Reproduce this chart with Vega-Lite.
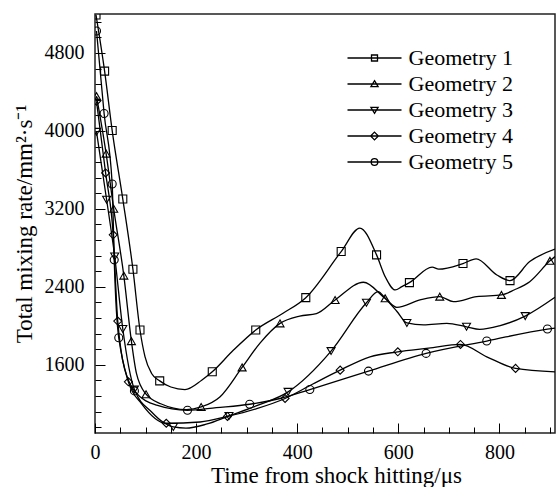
{
  "$schema": "https://vega.github.io/schema/vega-lite/v6.json",
  "width": 460,
  "height": 419,
  "autosize": {"type": "none"},
  "padding": {"left": 95, "top": 14, "right": 5, "bottom": 54},
  "config": {
    "font": "Liberation Serif",
    "view": {"stroke": "#222", "strokeWidth": 1.5},
    "axis": {"grid": false, "domain": false, "tickColor": "black", "tickWidth": 1, "labelColor": "black", "titleColor": "black", "labelFontSize": 20, "titleFontSize": 23, "titleFontWeight": "normal", "labelFont": "Liberation Serif", "titleFont": "Liberation Serif", "labelFlush": false},
    "legend": {"labelFont": "Liberation Serif"}
  },
  "data": {"values": [
    {"series": "Geometry 1", "time": 2, "rate": 5190, "marker": true},
    {"series": "Geometry 1", "time": 19, "rate": 4614, "marker": true},
    {"series": "Geometry 1", "time": 34, "rate": 4004, "marker": true},
    {"series": "Geometry 1", "time": 55, "rate": 3301, "marker": true},
    {"series": "Geometry 1", "time": 75, "rate": 2581, "marker": true},
    {"series": "Geometry 1", "time": 89, "rate": 1957, "marker": true},
    {"series": "Geometry 1", "time": 99, "rate": 1682, "marker": false},
    {"series": "Geometry 1", "time": 112, "rate": 1511, "marker": false},
    {"series": "Geometry 1", "time": 128, "rate": 1435, "marker": true},
    {"series": "Geometry 1", "time": 150, "rate": 1372, "marker": false},
    {"series": "Geometry 1", "time": 178, "rate": 1346, "marker": false},
    {"series": "Geometry 1", "time": 211, "rate": 1442, "marker": false},
    {"series": "Geometry 1", "time": 232, "rate": 1528, "marker": true},
    {"series": "Geometry 1", "time": 274, "rate": 1751, "marker": false},
    {"series": "Geometry 1", "time": 318, "rate": 1957, "marker": true},
    {"series": "Geometry 1", "time": 372, "rate": 2129, "marker": false},
    {"series": "Geometry 1", "time": 417, "rate": 2289, "marker": true},
    {"series": "Geometry 1", "time": 487, "rate": 2762, "marker": true},
    {"series": "Geometry 1", "time": 524, "rate": 3003, "marker": false},
    {"series": "Geometry 1", "time": 557, "rate": 2728, "marker": true},
    {"series": "Geometry 1", "time": 574, "rate": 2505, "marker": false},
    {"series": "Geometry 1", "time": 594, "rate": 2368, "marker": false},
    {"series": "Geometry 1", "time": 607, "rate": 2402, "marker": false},
    {"series": "Geometry 1", "time": 622, "rate": 2443, "marker": true},
    {"series": "Geometry 1", "time": 667, "rate": 2602, "marker": false},
    {"series": "Geometry 1", "time": 680, "rate": 2581, "marker": false},
    {"series": "Geometry 1", "time": 728, "rate": 2639, "marker": true},
    {"series": "Geometry 1", "time": 754, "rate": 2687, "marker": false},
    {"series": "Geometry 1", "time": 795, "rate": 2522, "marker": false},
    {"series": "Geometry 1", "time": 821, "rate": 2464, "marker": true},
    {"series": "Geometry 1", "time": 860, "rate": 2659, "marker": false},
    {"series": "Geometry 1", "time": 910, "rate": 2787, "marker": false},

    {"series": "Geometry 2", "time": 3, "rate": 4357, "marker": true},
    {"series": "Geometry 2", "time": 22, "rate": 3767, "marker": true},
    {"series": "Geometry 2", "time": 37, "rate": 3201, "marker": true},
    {"series": "Geometry 2", "time": 57, "rate": 2515, "marker": true},
    {"series": "Geometry 2", "time": 72, "rate": 1843, "marker": true},
    {"series": "Geometry 2", "time": 82, "rate": 1511, "marker": false},
    {"series": "Geometry 2", "time": 101, "rate": 1298, "marker": true},
    {"series": "Geometry 2", "time": 130, "rate": 1200, "marker": false},
    {"series": "Geometry 2", "time": 181, "rate": 1140, "marker": false},
    {"series": "Geometry 2", "time": 210, "rate": 1167, "marker": true},
    {"series": "Geometry 2", "time": 247, "rate": 1270, "marker": false},
    {"series": "Geometry 2", "time": 291, "rate": 1573, "marker": true},
    {"series": "Geometry 2", "time": 326, "rate": 1820, "marker": false},
    {"series": "Geometry 2", "time": 366, "rate": 2025, "marker": true},
    {"series": "Geometry 2", "time": 405, "rate": 2100, "marker": false},
    {"series": "Geometry 2", "time": 438, "rate": 2125, "marker": false},
    {"series": "Geometry 2", "time": 475, "rate": 2265, "marker": true},
    {"series": "Geometry 2", "time": 531, "rate": 2447, "marker": false},
    {"series": "Geometry 2", "time": 574, "rate": 2282, "marker": true},
    {"series": "Geometry 2", "time": 597, "rate": 2190, "marker": false},
    {"series": "Geometry 2", "time": 643, "rate": 2265, "marker": false},
    {"series": "Geometry 2", "time": 682, "rate": 2299, "marker": true},
    {"series": "Geometry 2", "time": 709, "rate": 2248, "marker": false},
    {"series": "Geometry 2", "time": 755, "rate": 2299, "marker": false},
    {"series": "Geometry 2", "time": 804, "rate": 2317, "marker": true},
    {"series": "Geometry 2", "time": 830, "rate": 2370, "marker": false},
    {"series": "Geometry 2", "time": 860, "rate": 2453, "marker": false},
    {"series": "Geometry 2", "time": 900, "rate": 2667, "marker": true},
    {"series": "Geometry 2", "time": 910, "rate": 2711, "marker": false},

    {"series": "Geometry 3", "time": 3, "rate": 3991, "marker": true},
    {"series": "Geometry 3", "time": 23, "rate": 3294, "marker": true},
    {"series": "Geometry 3", "time": 39, "rate": 2711, "marker": true},
    {"series": "Geometry 3", "time": 55, "rate": 1967, "marker": true},
    {"series": "Geometry 3", "time": 78, "rate": 1346, "marker": true},
    {"series": "Geometry 3", "time": 112, "rate": 1116, "marker": false},
    {"series": "Geometry 3", "time": 135, "rate": 1010, "marker": false},
    {"series": "Geometry 3", "time": 155, "rate": 962, "marker": true},
    {"series": "Geometry 3", "time": 180, "rate": 950, "marker": false},
    {"series": "Geometry 3", "time": 220, "rate": 990, "marker": false},
    {"series": "Geometry 3", "time": 265, "rate": 1075, "marker": true},
    {"series": "Geometry 3", "time": 320, "rate": 1180, "marker": false},
    {"series": "Geometry 3", "time": 382, "rate": 1322, "marker": true},
    {"series": "Geometry 3", "time": 467, "rate": 1741, "marker": true},
    {"series": "Geometry 3", "time": 537, "rate": 2237, "marker": true},
    {"series": "Geometry 3", "time": 560, "rate": 2350, "marker": false},
    {"series": "Geometry 3", "time": 574, "rate": 2283, "marker": false},
    {"series": "Geometry 3", "time": 597, "rate": 2150, "marker": false},
    {"series": "Geometry 3", "time": 617, "rate": 2029, "marker": true},
    {"series": "Geometry 3", "time": 650, "rate": 2010, "marker": false},
    {"series": "Geometry 3", "time": 696, "rate": 2026, "marker": false},
    {"series": "Geometry 3", "time": 735, "rate": 1990, "marker": true},
    {"series": "Geometry 3", "time": 761, "rate": 1964, "marker": false},
    {"series": "Geometry 3", "time": 800, "rate": 2000, "marker": false},
    {"series": "Geometry 3", "time": 851, "rate": 2100, "marker": true},
    {"series": "Geometry 3", "time": 910, "rate": 2293, "marker": false},

    {"series": "Geometry 4", "time": 3, "rate": 4305, "marker": true},
    {"series": "Geometry 4", "time": 21, "rate": 3569, "marker": true},
    {"series": "Geometry 4", "time": 36, "rate": 2934, "marker": true},
    {"series": "Geometry 4", "time": 45, "rate": 2049, "marker": true},
    {"series": "Geometry 4", "time": 66, "rate": 1425, "marker": true},
    {"series": "Geometry 4", "time": 92, "rate": 1202, "marker": false},
    {"series": "Geometry 4", "time": 141, "rate": 1000, "marker": true},
    {"series": "Geometry 4", "time": 208, "rate": 1013, "marker": false},
    {"series": "Geometry 4", "time": 262, "rate": 1070, "marker": true},
    {"series": "Geometry 4", "time": 320, "rate": 1150, "marker": false},
    {"series": "Geometry 4", "time": 376, "rate": 1254, "marker": true},
    {"series": "Geometry 4", "time": 430, "rate": 1400, "marker": false},
    {"series": "Geometry 4", "time": 485, "rate": 1545, "marker": true},
    {"series": "Geometry 4", "time": 544, "rate": 1682, "marker": false},
    {"series": "Geometry 4", "time": 599, "rate": 1733, "marker": true},
    {"series": "Geometry 4", "time": 660, "rate": 1770, "marker": false},
    {"series": "Geometry 4", "time": 723, "rate": 1809, "marker": true},
    {"series": "Geometry 4", "time": 775, "rate": 1682, "marker": false},
    {"series": "Geometry 4", "time": 832, "rate": 1563, "marker": true},
    {"series": "Geometry 4", "time": 910, "rate": 1528, "marker": false},

    {"series": "Geometry 5", "time": 3, "rate": 5026, "marker": true},
    {"series": "Geometry 5", "time": 18, "rate": 4179, "marker": true},
    {"series": "Geometry 5", "time": 34, "rate": 3456, "marker": true},
    {"series": "Geometry 5", "time": 38, "rate": 2677, "marker": true},
    {"series": "Geometry 5", "time": 47, "rate": 1877, "marker": true},
    {"series": "Geometry 5", "time": 78, "rate": 1332, "marker": true},
    {"series": "Geometry 5", "time": 122, "rate": 1185, "marker": false},
    {"series": "Geometry 5", "time": 183, "rate": 1133, "marker": true},
    {"series": "Geometry 5", "time": 240, "rate": 1160, "marker": false},
    {"series": "Geometry 5", "time": 306, "rate": 1195, "marker": true},
    {"series": "Geometry 5", "time": 366, "rate": 1254, "marker": false},
    {"series": "Geometry 5", "time": 425, "rate": 1346, "marker": true},
    {"series": "Geometry 5", "time": 541, "rate": 1535, "marker": true},
    {"series": "Geometry 5", "time": 655, "rate": 1717, "marker": true},
    {"series": "Geometry 5", "time": 775, "rate": 1844, "marker": true},
    {"series": "Geometry 5", "time": 895, "rate": 1967, "marker": true},
    {"series": "Geometry 5", "time": 910, "rate": 1977, "marker": false}
  ]},
  "layer": [
    {
      "mark": {"type": "line", "interpolate": "monotone", "stroke": "black", "strokeWidth": 1.3, "clip": true},
      "encoding": {
        "x": {"field": "time", "type": "quantitative", "scale": {"domain": [0, 910], "nice": false, "zero": false},
          "axis": {"orient": "bottom", "values": [0, 200, 400, 600, 800], "format": "d", "tickSize": -10, "labelPadding": 19, "title": "Time from shock hitting/μs", "titlePadding": 2, "titleX": 241}},
        "y": {"field": "rate", "type": "quantitative", "scale": {"domain": [900, 5200], "nice": false, "zero": false},
          "axis": {"orient": "left", "values": [1600, 2400, 3200, 4000, 4800], "format": "d", "tickSize": -10, "labelPadding": 21, "title": "Total mixing rate/mm²·s⁻¹", "titlePadding": 8}},
        "detail": {"field": "series", "type": "nominal"}
      }
    },
    {
      "transform": [{"filter": "datum.marker"}],
      "mark": {"type": "point", "filled": false, "stroke": "black", "strokeWidth": 1.1, "size": 64, "opacity": 1, "clip": true},
      "encoding": {
        "x": {"field": "time", "type": "quantitative",
          "axis": {"orient": "bottom", "values": [50, 100, 150, 250, 300, 350, 450, 500, 550, 650, 700, 750, 850, 900], "tickSize": -6, "labels": false, "title": null}},
        "y": {"field": "rate", "type": "quantitative",
          "axis": {"orient": "left", "values": [960, 1120, 1280, 1440, 1760, 1920, 2080, 2240, 2560, 2720, 2880, 3040, 3360, 3520, 3680, 3840, 4160, 4320, 4480, 4640, 4960, 5120], "tickSize": -6, "labels": false, "title": null}},
        "shape": {"field": "series", "type": "nominal",
          "scale": {"domain": ["Geometry 1", "Geometry 2", "Geometry 3", "Geometry 4", "Geometry 5"], "range": ["square", "triangle-up", "triangle-down", "diamond", "circle"]},
          "legend": null}
      }
    },
    {
      "transform": [{"filter": "datum.time > 100000"}],
      "mark": {"type": "point", "filled": false, "stroke": "black", "strokeWidth": 1.3, "opacity": 1},
      "encoding": {
        "x": {"field": "time", "type": "quantitative", "axis": null},
        "y": {"field": "rate", "type": "quantitative", "axis": null},
        "shape": {"field": "series", "type": "nominal",
          "scale": {"domain": ["Geometry 1", "Geometry 2", "Geometry 3", "Geometry 4", "Geometry 5"],
            "range": ["M-9,0H9M-1,-1H1V1H-1Z", "M-9,0H9M0,-1.1L1.2,0.9H-1.2Z", "M-9,0H9M0,1.1L1.2,-0.9H-1.2Z", "M-9,0H9M0,-1.3L1.3,0L0,1.3L-1.3,0Z", "M-9,0H9M1.1,0A1.1,1.1,0,1,1,-1.1,0A1.1,1.1,0,1,1,1.1,0Z"]},
          "legend": {"orient": "none", "legendX": 268.5, "legendY": 33, "title": null, "padding": 0, "symbolSize": 36, "labelOffset": 23, "labelFontSize": 22, "labelColor": "black", "rowPadding": 4, "symbolStrokeColor": "black", "symbolFillColor": "transparent", "symbolStrokeWidth": 1.3, "symbolOpacity": 1}}
      }
    }
  ],
  "resolve": {"axis": {"x": "independent", "y": "independent"}, "scale": {"shape": "independent"}}
}
